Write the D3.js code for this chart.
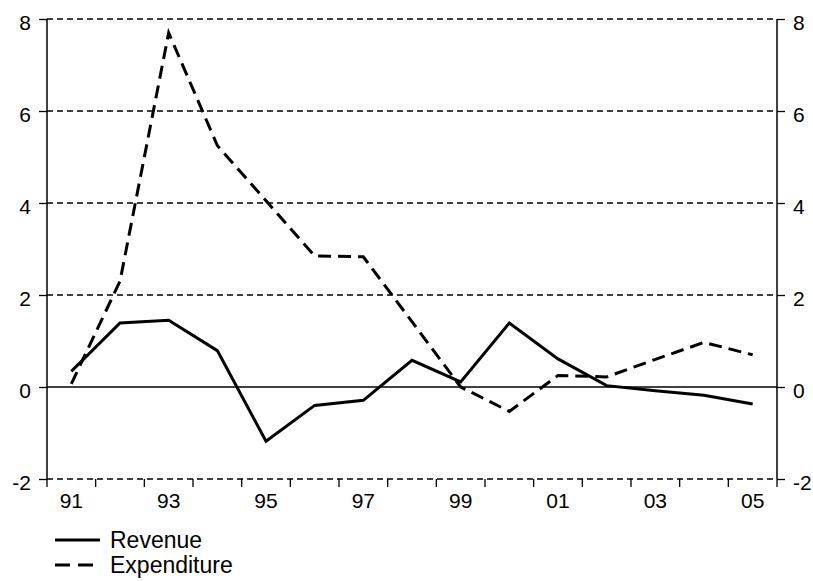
<!DOCTYPE html>
<html>
<head>
<meta charset="utf-8">
<script src="https://cdn.jsdelivr.net/npm/d3@7"></script>
<style>
html,body{margin:0;padding:0;background:#fff;}
svg{display:block;font-family:"Liberation Sans",Arial,sans-serif;}
</style>
</head>
<body>
<svg id="chart" width="813" height="581"></svg>
<script>
const categories = ["91","92","93","94","95","96","97","98","99","00","01","02","03","04","05"];
const revenue = [0.34,1.39,1.45,0.79,-1.18,-0.40,-0.29,0.58,0.11,1.39,0.61,0.03,-0.08,-0.18,-0.37];
const expenditure = [0.07,2.30,7.70,5.25,4.05,2.85,2.83,1.42,0.00,-0.53,0.25,0.22,0.60,0.97,0.70];
const yTicks = [-2,0,2,4,6,8];
const xLabels = ["91","93","95","97","99","01","03","05"];
const seriesNames = ["Revenue","Expenditure"];

const svg = d3.select("#chart");
const pLeft = 47, pRight = 777, pTop = 19, pBottom = 479;
const FONT = "Liberation Sans, Arial, sans-serif";

const x = d3.scaleBand().domain(categories).range([pLeft, pRight]).padding(0);
const y = d3.scaleLinear().domain([-2, 8]).range([pBottom, pTop]);

// gridlines
svg.append("g").selectAll("line")
  .data(yTicks.filter(v => v !== 0))
  .join("line")
  .attr("x1", pLeft).attr("x2", pRight)
  .attr("y1", d => y(d)).attr("y2", d => y(d))
  .attr("stroke", "#000").attr("stroke-width", 1.3)
  .attr("stroke-dasharray", "6,4");

// zero line
svg.append("line")
  .attr("x1", pLeft).attr("x2", pRight)
  .attr("y1", y(0)).attr("y2", y(0))
  .attr("stroke", "#000").attr("stroke-width", 1.5);

// left axis
const gl = svg.append("g").attr("transform", `translate(${pLeft},0)`)
  .call(d3.axisLeft(y).tickValues(yTicks).tickSize(8).tickPadding(8).tickFormat(d => String(d)));
// right axis
const gr = svg.append("g").attr("transform", `translate(${pRight},0)`)
  .call(d3.axisRight(y).tickValues(yTicks).tickSize(8).tickPadding(8).tickFormat(d => String(d)));
[gl, gr].forEach(g => {
  g.select(".domain").attr("stroke", "#000").attr("stroke-width", 1.5).attr("d", `M0,${pTop}V${pBottom}`);
  g.selectAll(".tick line").attr("stroke", "#000").attr("stroke-width", 1.3);
  g.selectAll(".tick text").attr("font-size", 21).attr("fill", "#000").attr("dy", "0.48em")
    .style("font-family", FONT);
});

// bottom axis labels
const gb = svg.append("g").attr("transform", `translate(0,${pBottom})`)
  .call(d3.axisBottom(x).tickSize(0).tickPadding(14).tickFormat(d => xLabels.includes(d) ? d : ""));
gb.select(".domain").remove();
gb.selectAll(".tick text").attr("font-size", 21).attr("fill", "#000")
  .style("font-family", FONT);

// bottom tick marks at category boundaries
const boundaries = categories.map(c => x(c)).concat([x.range()[1]]);
svg.append("g").selectAll("line")
  .data(boundaries)
  .join("line")
  .attr("x1", d => d).attr("x2", d => d)
  .attr("y1", pBottom).attr("y2", pBottom + 8)
  .attr("stroke", "#000").attr("stroke-width", 1.3);

// series
const line = d3.line()
  .x((d, i) => x(categories[i]) + x.bandwidth() / 2)
  .y(d => y(d));

svg.append("path").datum(expenditure)
  .attr("d", line).attr("fill", "none")
  .attr("stroke", "#000").attr("stroke-width", 3)
  .attr("stroke-dasharray", "13,7");

svg.append("path").datum(revenue)
  .attr("d", line).attr("fill", "none")
  .attr("stroke", "#000").attr("stroke-width", 3)
  .attr("stroke-linejoin", "miter");

// legend
const legend = svg.append("g");
const legY = [540, 565];
seriesNames.forEach((name, i) => {
  legend.append("line")
    .attr("x1", 55).attr("x2", 100)
    .attr("y1", legY[i]).attr("y2", legY[i])
    .attr("stroke", "#000").attr("stroke-width", 3)
    .attr("stroke-dasharray", i === 1 ? "15,8" : null);
  legend.append("text")
    .attr("x", 110).attr("y", legY[i])
    .attr("dy", "0.35em")
    .attr("font-size", 23)
    .style("font-family", FONT)
    .text(name);
});
</script>
</body>
</html>
